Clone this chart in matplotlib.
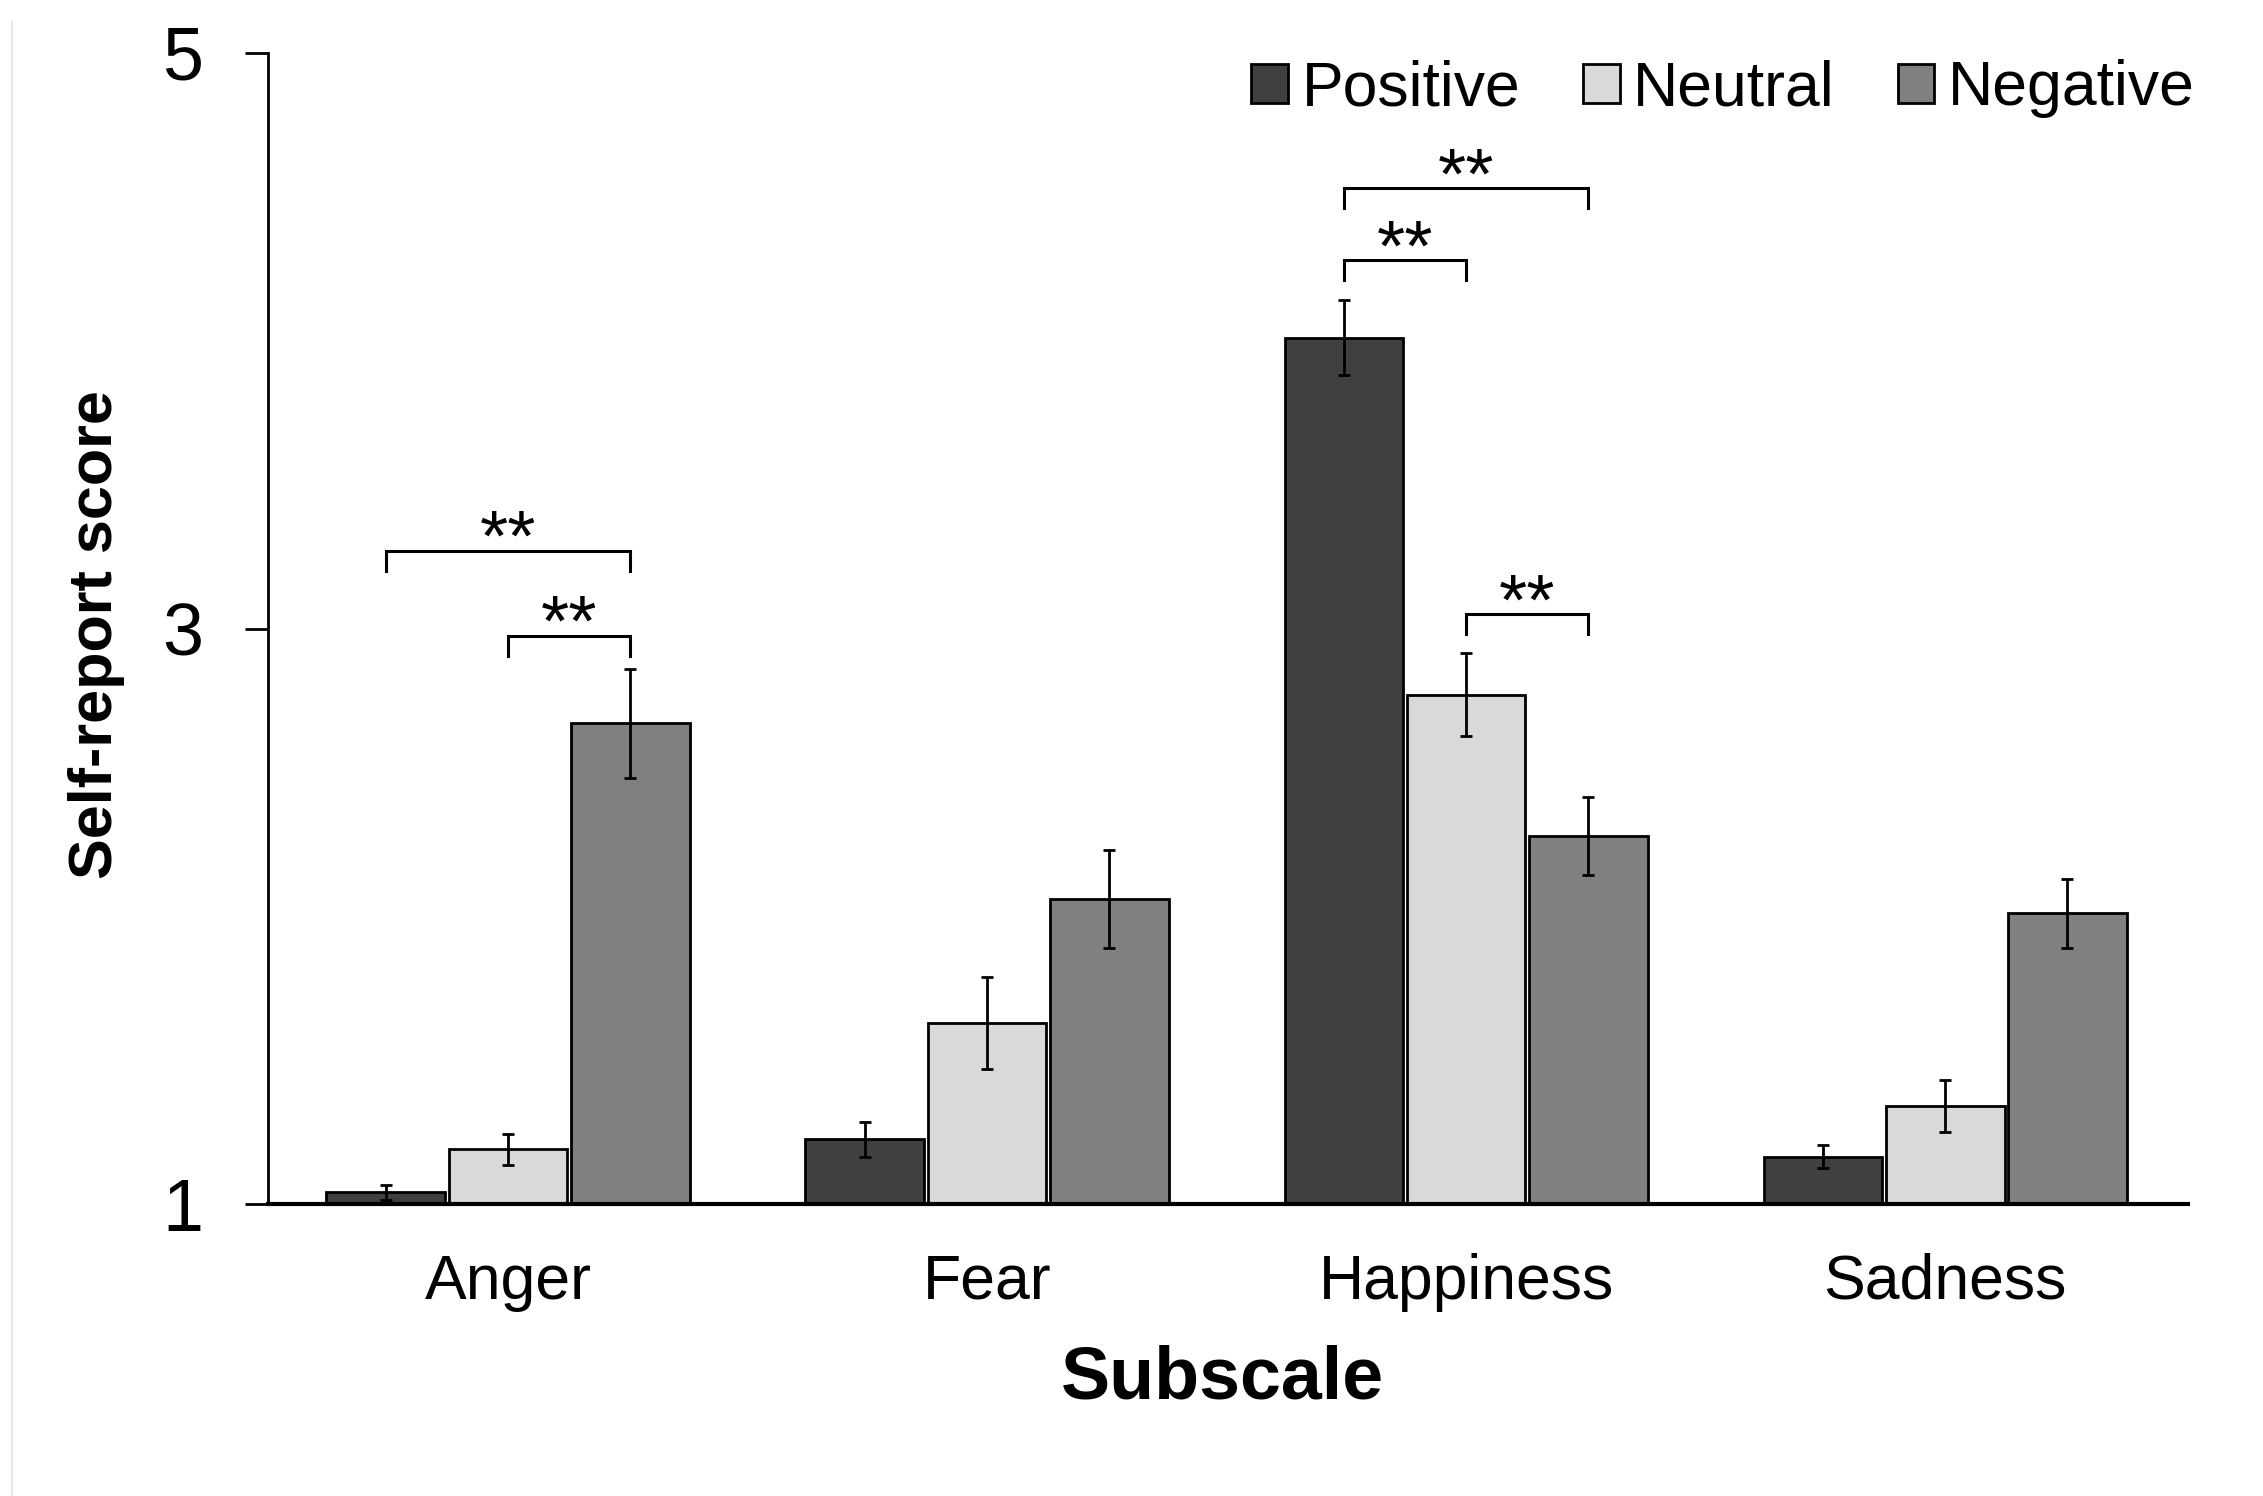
import numpy as np
import matplotlib.pyplot as plt
from matplotlib.lines import Line2D

plt.rcParams['font.family'] = ['Liberation Sans', 'DejaVu Sans']

# datos
subscales = ['Anger', 'Fear', 'Happiness', 'Sadness']
conditions = ['Positive', 'Neutral', 'Negative']
colors = ['#404040', '#d9d9d9', '#808080']

positive = [1.04, 1.225, 4.01, 1.165]
neutral = [1.19, 1.63, 2.77, 1.34]
negative = [2.67, 2.06, 2.28, 2.01]
positive_err = [0.025, 0.06, 0.13, 0.04]
neutral_err = [0.055, 0.16, 0.145, 0.09]
negative_err = [0.19, 0.17, 0.135, 0.12]

# comparaciones: (subescala, barra i, barra j, altura)
brackets = [(0, 0, 2, 3.27), (0, 1, 2, 2.975),
            (2, 0, 2, 4.53), (2, 0, 1, 4.28), (2, 1, 2, 3.05)]

means = [positive, neutral, negative]
errs = [positive_err, neutral_err, negative_err]

W, H = 2263, 1496
fig = plt.figure(figsize=(W / 100, H / 100), dpi=100)
ax = fig.add_axes([268 / W, 1 - 1204 / H, 1920 / W, 1151 / H])

x = np.arange(len(subscales))
width = 0.248
step = 0.255

for k in range(3):
    ax.bar(x + (k - 1) * step, np.array(means[k]) - 1, width, bottom=1,
           color=colors[k], edgecolor='black', linewidth=2, label=conditions[k],
           zorder=2)
    ax.errorbar(x + (k - 1) * step, means[k], yerr=errs[k], fmt='none',
                ecolor='black', elinewidth=2, capsize=4.5, capthick=2,
                zorder=3)

drop = 0.07
for g, i, j, h in brackets:
    x1 = g + (i - 1) * step
    x2 = g + (j - 1) * step
    ax.plot([x1, x1, x2, x2], [h - drop, h, h, h - drop], color='black',
            linewidth=2.2, zorder=3, solid_joinstyle='miter')
    ax.text((x1 + x2) / 2, h - 0.035, '**', ha='center', va='baseline',
            fontsize=52)

ax.set_xlim(-0.501, 3.507)
ax.set_ylim(1, 5)
ax.set_yticks([1, 3, 5])
ax.set_xticks(x)
ax.set_xticklabels(subscales, fontsize=45)
ax.tick_params(axis='x', length=0, pad=35)
ax.tick_params(axis='y', labelsize=53, length=16.5, width=2, pad=30)

ax.spines['top'].set_visible(False)
ax.spines['right'].set_visible(False)
ax.spines['left'].set_linewidth(2)
ax.spines['bottom'].set_linewidth(3)
ax.spines['bottom'].set_zorder(4)

ax.set_ylabel('Self-report score', fontsize=44, fontweight='bold')
ax.yaxis.set_label_coords(-0.0745, 0.495)
ax.set_xlabel('Subscale', fontsize=53, fontweight='bold')
ax.xaxis.set_label_coords(0.497, -0.122)

fig.legend(loc='center right', bbox_to_anchor=(2195 / W, 1 - 89 / H),
           ncol=3, frameon=False, fontsize=45, handlelength=0.59,
           handleheight=0.59, handletextpad=0.22, columnspacing=1.0,
           borderpad=0, borderaxespad=0)

fig.add_artist(Line2D([12 / W, 12 / W], [0.0, 0.985], color='#e8e8e8',
                      linewidth=1.5))

fig.savefig('out.png', dpi=100)
